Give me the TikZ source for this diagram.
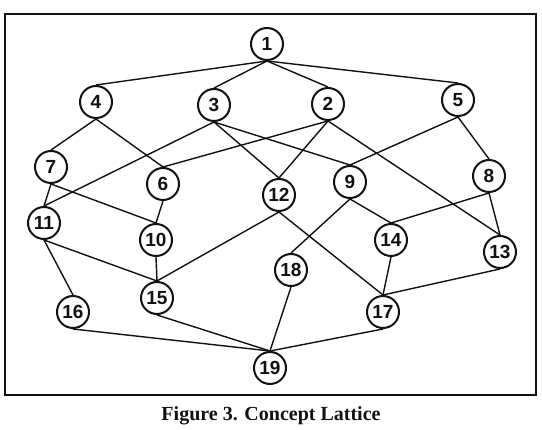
\documentclass[tikz,border=0pt]{standalone}
\usepackage{fontspec}
\setmainfont{Liberation Serif}
\newfontfamily\latnum{Liberation Sans}
\usetikzlibrary{positioning}
\definecolor{latInk}{HTML}{111111}
\tikzset{
  lat/concept/.style={circle, draw=latInk, line width=2pt, fill=white,
    minimum size=32pt, inner sep=0pt, text=latInk,
    font=\latnum\fontsize{19}{19}\selectfont\bfseries},
  lat/edge/.style={draw=latInk, line width=1.4pt},
  lat/frame/.style={draw=latInk, line width=2.4pt},
  lat/caption/.style={font=\fontsize{20}{20}\selectfont\bfseries, text=latInk},
}

\begin{document}
\begin{tikzpicture}[x=1pt, y=-1pt]
\useasboundingbox (0,0) rectangle (542,430);
\draw[lat/frame] (5,14) rectangle (536,395);
% concepts, top to bottom
\node[lat/concept] (c1) at (267,44) {1};
\node[lat/concept] (c4) at (96,102) {4};
\node[lat/concept] (c3) at (214,105) {3};
\node[lat/concept] (c2) at (328,104) {2};
\node[lat/concept] (c5) at (458,100) {5};
\node[lat/concept] (c7) at (51,167) {7};
\node[lat/concept] (c6) at (163,184) {6};
\node[lat/concept] (c12) at (279,195) {12};
\node[lat/concept] (c9) at (350,182) {9};
\node[lat/concept] (c8) at (489,176) {8};
\node[lat/concept] (c11) at (44,223) {11};
\node[lat/concept] (c10) at (156,240) {10};
\node[lat/concept] (c14) at (391,240) {14};
\node[lat/concept] (c13) at (500,252) {13};
\node[lat/concept] (c18) at (291,270) {18};
\node[lat/concept] (c15) at (157,298) {15};
\node[lat/concept] (c16) at (73,312) {16};
\node[lat/concept] (c17) at (383,312) {17};
\node[lat/concept] (c19) at (270,368) {19};
\node[lat/caption] (cap) at (271,416) {Figure 3. Concept Lattice};
% order relation, lower edge of upper concept to top of lower one
\draw[lat/edge] (c1.south) -- (c4.north);
\draw[lat/edge] (c1.south) -- (c3.north);
\draw[lat/edge] (c1.south) -- (c2.north);
\draw[lat/edge] (c1.south) -- (c5.north);
\draw[lat/edge] (c4.south) -- (c7.north);
\draw[lat/edge] (c4.south) -- (c6.north);
\draw[lat/edge] (c3.south) -- (c11.north);
\draw[lat/edge] (c3.south) -- (c12.north);
\draw[lat/edge] (c3.south) -- (c9.north);
\draw[lat/edge] (c2.south) -- (c6.north);
\draw[lat/edge] (c2.south) -- (c12.north);
\draw[lat/edge] (c2.south) -- (c13.north);
\draw[lat/edge] (c5.south) -- (c9.north);
\draw[lat/edge] (c5.south) -- (c8.north);
\draw[lat/edge] (c7.south) -- (c11.north);
\draw[lat/edge] (c7.south) -- (c10.north);
\draw[lat/edge] (c6.south) -- (c10.north);
\draw[lat/edge] (c12.south) -- (c15.north);
\draw[lat/edge] (c12.south) -- (c17.north);
\draw[lat/edge] (c9.south) -- (c18.north);
\draw[lat/edge] (c9.south) -- (c14.north);
\draw[lat/edge] (c8.south) -- (c14.north);
\draw[lat/edge] (c8.south) -- (c13.north);
\draw[lat/edge] (c11.south) -- (c15.north);
\draw[lat/edge] (c11.south) -- (c16.north);
\draw[lat/edge] (c10.south) -- (c15.north);
\draw[lat/edge] (c14.south) -- (c17.north);
\draw[lat/edge] (c13.south) -- (c17.north);
\draw[lat/edge] (c18.south) -- (c19.north);
\draw[lat/edge] (c15.south) -- (c19.north);
\draw[lat/edge] (c16.south) -- (c19.north);
\draw[lat/edge] (c17.south) -- (c19.north);
\end{tikzpicture}
\end{document}
